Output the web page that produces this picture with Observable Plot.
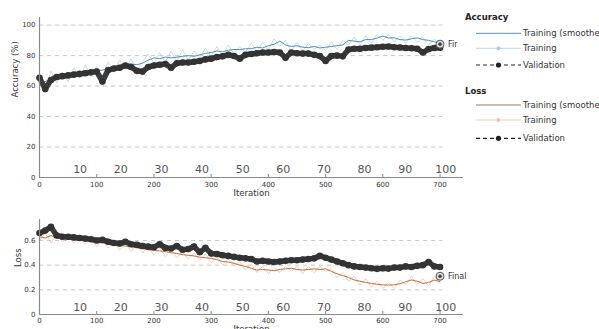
<!DOCTYPE html>
<html><head><meta charset="utf-8">
<script src="https://cdn.jsdelivr.net/npm/d3@7"></script>
<script src="https://cdn.jsdelivr.net/npm/@observablehq/plot@0.6"></script>
<style>
body{margin:0;background:#fff;width:599px;height:329px;overflow:hidden;position:relative;font-family:"DejaVu Sans",sans-serif;}
#acc{position:absolute;left:0;top:0;}
#loss{position:absolute;left:0;top:200px;}
#legend{position:absolute;left:457px;top:0;width:142px;height:150px;background:#fff;}
svg{overflow:visible;}
</style></head><body>
<div id="acc"></div><div id="loss"></div><div id="legend"></div>
<script>
const iterStep = 10;
const iterTicks = [0, 100, 200, 300, 400, 500, 600, 700];
const epochLabels = [10, 20, 30, 40, 50, 60, 70, 80, 90, 100];
const itersPerEpoch = 7.1;
const accTicks = [0, 20, 40, 60, 80, 100];
const accGrid = [20, 40, 60, 80, 100];
const lossTicks = [0, 0.2, 0.4, 0.6];
const lossGrid = [0.2, 0.4, 0.6];

const rawAcc = [68,56,70,62,69,63,72,65,74,66,73,66,76,69,77,71,78,70,76,81,75,82,76,83,76,84,77,83,78,85,79,86,80,87,81,86,82,88,83,89,84,91,86,90,83,89,83,88,84,87,83,89,84,90,87,92,87,93,88,94,90,94,89,93,88,93,89,92,87,91,86];
const smoothAcc = [64,63,64.5,65.5,66,66.5,67.5,68,69,69.5,70,70.5,71.5,72.5,73,74,74.5,74,75,77,78.5,78,79,78.5,79,79.5,80,79.5,80.5,81.5,82,83,82.5,83.5,84,84,84.5,84.5,85.5,85,86.5,87.5,89.5,87,86,86.5,85.5,85.2,86,85,85.5,86,86.5,87,90,89.5,89,90.5,90.5,91.5,92.8,91.5,91.7,90.5,90.2,91,91.7,90.5,90,89,88.5];
const valAcc = [65.5,58,64,66,66.5,67,67.5,68,68.4,69,69.5,63,70.5,71.5,72,73.5,72.5,70,69.5,72.5,73.5,74,74.5,72,75,75.5,75.5,76,76.5,77.5,78,79,79.5,80.5,79.7,78,80.5,81,81.5,82,82,82.4,82,78.6,82,81.5,81.3,81.3,80.5,79.7,76.5,79.7,80,79.5,84,84.5,84.5,85,85.2,85.5,85.8,86,85.5,85.3,85,84.8,84.5,82,84.3,85,85.2];
const finalAcc = 87.5;

const rawLoss = [0.60,0.66,0.58,0.65,0.59,0.63,0.58,0.62,0.57,0.62,0.55,0.60,0.54,0.59,0.52,0.58,0.51,0.57,0.50,0.55,0.48,0.54,0.47,0.53,0.46,0.51,0.45,0.50,0.44,0.49,0.42,0.47,0.40,0.45,0.39,0.43,0.36,0.41,0.34,0.39,0.33,0.38,0.34,0.39,0.35,0.39,0.33,0.39,0.34,0.39,0.35,0.37,0.30,0.34,0.27,0.31,0.24,0.29,0.22,0.27,0.21,0.26,0.21,0.28,0.24,0.31,0.24,0.29,0.23,0.31,0.25];
const smoothLoss = [0.63,0.62,0.64,0.62,0.615,0.61,0.605,0.60,0.60,0.595,0.585,0.58,0.575,0.565,0.56,0.555,0.55,0.54,0.535,0.525,0.52,0.515,0.51,0.50,0.495,0.485,0.48,0.475,0.465,0.46,0.455,0.445,0.43,0.425,0.415,0.40,0.39,0.375,0.36,0.365,0.36,0.355,0.365,0.37,0.375,0.365,0.36,0.365,0.37,0.365,0.37,0.35,0.33,0.315,0.30,0.28,0.27,0.26,0.252,0.245,0.24,0.238,0.24,0.25,0.265,0.28,0.27,0.252,0.26,0.279,0.265];
const valLoss = [0.66,0.68,0.71,0.64,0.63,0.63,0.625,0.62,0.615,0.61,0.60,0.605,0.59,0.58,0.575,0.59,0.57,0.565,0.555,0.55,0.545,0.57,0.54,0.535,0.555,0.525,0.53,0.55,0.505,0.54,0.495,0.49,0.48,0.475,0.467,0.46,0.455,0.45,0.43,0.435,0.43,0.425,0.43,0.435,0.44,0.44,0.445,0.45,0.455,0.475,0.46,0.445,0.43,0.415,0.40,0.39,0.385,0.38,0.375,0.37,0.375,0.372,0.38,0.38,0.39,0.385,0.395,0.40,0.425,0.39,0.385];
const finalLoss = 0.31;
const finalIter = 700;

// ---- tables ----
const accRows = valAcc.map((v, i) => ({iteration: i * iterStep, raw: rawAcc[i], smooth: smoothAcc[i], val: v}));
const lossRows = valLoss.map((v, i) => ({iteration: i * iterStep, raw: rawLoss[i], smooth: smoothLoss[i], val: v}));

const FONT = "DejaVu Sans";
const AX = "#8a8a8a";

function panel({rows, yDomain, yTicks, yGrid, yFormat, height, marginTop, marginBottom, colors, finalY, yLabel, yLabelDx, tickPad, epochDy, iterDy, tickInset}) {
  return Plot.plot({
    width: 470, height, marginLeft: 39, marginRight: 7, marginTop, marginBottom,
    style: {fontFamily: FONT, fontSize: "7px", color: "#333", background: "transparent"},
    x: {domain: [0, 741], ticks: iterTicks, tickSize: 0, tickPadding: tickPad, label: null},
    y: {domain: yDomain, ticks: yTicks, tickSize: 0, tickPadding: 4, label: null, tickFormat: yFormat},
    marks: [
      Plot.ruleY(yGrid, {y: d => d, x1: 0, x2: 705, stroke: "#c9c9c9", strokeDasharray: "4,4"}),
      Plot.line(rows, {x: "iteration", y: "raw", stroke: colors.raw, strokeWidth: 0.8}),
      Plot.line(rows, {x: "iteration", y: "smooth", stroke: colors.smooth, strokeWidth: 1}),
      Plot.line(rows, {x: "iteration", y: "val", stroke: "#3d3d3d", strokeWidth: 5.5}),
      Plot.dot(rows, {x: "iteration", y: "val", r: 3.3, fill: "#333"}),
      Plot.ruleX([0], {stroke: AX, strokeWidth: 1.2}),
      Plot.ruleY([0], {stroke: AX, strokeWidth: 1.2}),
      Plot.tickX(iterTicks, {x: d => d, stroke: AX, insetTop: tickInset}),
      Plot.text(epochLabels, {x: d => d * itersPerEpoch, y: yDomain[0], dy: epochDy, text: d => String(d), fontSize: 11, fill: "#555"}),
      Plot.dot([finalY], {x: () => finalIter, y: d => d, r: 4, fill: "#ddd", stroke: "#555", strokeWidth: 1}),
      Plot.dot([finalY], {x: () => finalIter, y: d => d, r: 1.8, fill: "#444"}),
      Plot.text(["Final"], {x: () => finalIter, y: () => finalY, dx: 8, textAnchor: "start", fontSize: 8, fill: "#333"}),
      Plot.text(["Iteration"], {frameAnchor: "bottom", dy: iterDy, fontSize: 8.5, fill: "#333"}),
      Plot.text([yLabel], {frameAnchor: "left", rotate: -90, dx: yLabelDx, fontSize: 8.5, fill: "#333"})
    ]
  });
}

document.getElementById("acc").appendChild(panel({
  rows: accRows, yDomain: [0, 105], yTicks: accTicks, yGrid: accGrid, yFormat: d => String(d),
  height: 200, marginTop: 17, marginBottom: 23,
  colors: {raw: "#b6d5ee", smooth: "#4d8dc0"}, finalY: finalAcc,
  yLabel: "Accuracy (%)", yLabelDx: -24, tickPad: 5, epochDy: -8, iterDy: 18.5, tickInset: 157
}));

document.getElementById("loss").appendChild(panel({
  rows: lossRows, yDomain: [0, 0.77], yTicks: lossTicks, yGrid: lossGrid, yFormat: d => String(d),
  height: 140, marginTop: 19, marginBottom: 26,
  colors: {raw: "#f1c4ae", smooth: "#c0703f"}, finalY: finalLoss,
  yLabel: "Loss", yLabelDx: -21, tickPad: 4, epochDy: -6.7, iterDy: 17.5, tickInset: 92
}));

// ---- legend ----
const legendGroups = [
  {title: "Accuracy", ty: 17, items: [
    {label: "Training (smoothed)", y: 33.3, stroke: "#5b8fba", dash: null, marker: null},
    {label: "Training", y: 48.3, stroke: "#bcd6ec", dash: null, marker: "#a9cbe6"},
    {label: "Validation", y: 65, stroke: "#222", dash: "4,3", marker: "#222"}]},
  {title: "Loss", ty: 90.7, items: [
    {label: "Training (smoothed)", y: 105, stroke: "#9b7b63", dash: null, marker: null},
    {label: "Training", y: 120, stroke: "#edcfc6", dash: null, marker: "#e6c2b8"},
    {label: "Validation", y: 138.3, stroke: "#222", dash: "4,3", marker: "#222"}]}
];
const lg = d3.select("#legend").append("svg").attr("width", 142).attr("height", 150)
  .style("font-family", FONT).style("overflow", "hidden");
for (const g of legendGroups) {
  lg.append("text").attr("x", 8).attr("y", g.ty).attr("dy", "0.35em")
    .attr("font-size", 8.5).attr("font-weight", "bold").attr("fill", "#222").text(g.title);
  for (const it of g.items) {
    lg.append("line").attr("x1", 19).attr("x2", 64).attr("y1", it.y).attr("y2", it.y)
      .attr("stroke", it.stroke).attr("stroke-width", it.dash ? 1.2 : 1)
      .attr("stroke-dasharray", it.dash);
    if (it.marker) lg.append("circle").attr("cx", 41.5).attr("cy", it.y).attr("r", it.dash ? 2.6 : 2).attr("fill", it.marker);
    lg.append("text").attr("x", 66).attr("y", it.y).attr("dy", "0.35em")
      .attr("font-size", 8.5).attr("fill", "#333").text(it.label);
  }
}
</script>
</body></html>
